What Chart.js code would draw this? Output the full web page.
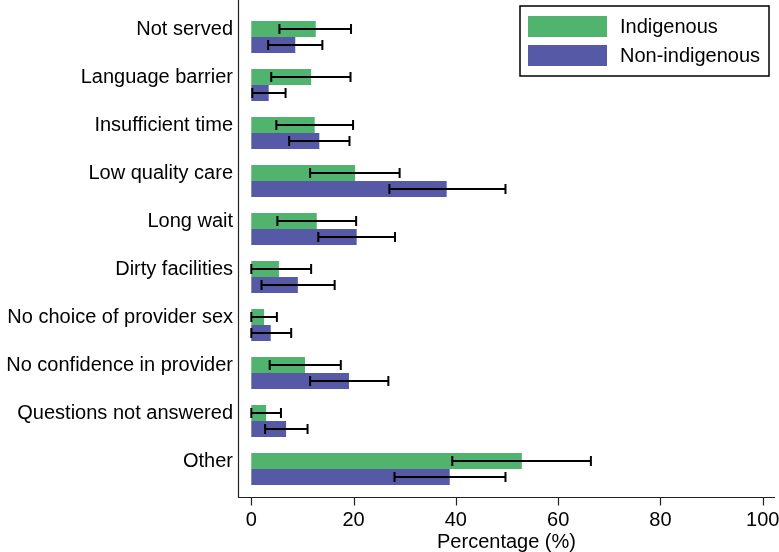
<!DOCTYPE html>
<html>
<head>
<meta charset="utf-8">
<script src="https://cdn.jsdelivr.net/npm/chart.js@4/dist/chart.umd.min.js"></script>
<style>
	html, body {
		margin: 0;
		padding: 0;
		background: #fff;
	}
	#wrap {
		width: 779px;
		height: 552px;
	}
</style>
</head>
<body>
<div id="wrap"><canvas id="chart" width="779" height="552"></canvas></div>
<script>
/* ==========================================================================
 Data
 ========================================================================== */

const categories = [
	'Not served',
	'Language barrier',
	'Insufficient time',
	'Low quality care',
	'Long wait',
	'Dirty facilities',
	'No choice of provider sex',
	'No confidence in provider',
	'Questions not answered',
	'Other',
];

const indigenous = [12.6, 11.7, 12.4, 20.3, 12.8, 5.4, 2.5, 10.5, 2.9, 52.9];
const indigenousLow = [5.5, 3.9, 4.9, 11.5, 5.1, 0, 0, 3.6, 0, 39.3];
const indigenousHigh = [19.5, 19.4, 19.9, 29.0, 20.5, 11.7, 5.0, 17.5, 5.8, 66.4];

const nonIndigenous = [8.6, 3.4, 13.3, 38.2, 20.6, 9.1, 3.8, 19.1, 6.8, 38.8];
const nonIndigenousLow = [3.3, 0.2, 7.4, 27.0, 13.1, 2.0, 0, 11.5, 2.7, 28.0];
const nonIndigenousHigh = [13.9, 6.7, 19.2, 49.7, 28.1, 16.3, 7.8, 26.8, 11.0, 49.7];

const xTicks = [0, 20, 40, 60, 80, 100];

const FONT = "'Liberation Sans', Arial, sans-serif";

/* ==========================================================================
 Plugins
 ========================================================================== */

// Confidence interval whiskers drawn on top of each bar
const errorBarPlugin = {
	id: 'errorBars',
	afterDatasetsDraw(chart) {
		const ctx = chart.ctx;
		const x = chart.scales.x;
		ctx.save();
		ctx.strokeStyle = '#000';
		ctx.lineWidth = 2;
		chart.data.datasets.forEach((ds, di) => {
			const meta = chart.getDatasetMeta(di);
			meta.data.forEach((bar, i) => {
				const x0 = x.getPixelForValue(ds.low[i]);
				const x1 = x.getPixelForValue(ds.high[i]);
				const y = bar.y;
				ctx.beginPath();
				ctx.moveTo(x0, y);
				ctx.lineTo(x1, y);
				ctx.moveTo(x0, y - 5);
				ctx.lineTo(x0, y + 5);
				ctx.moveTo(x1, y - 5);
				ctx.lineTo(x1, y + 5);
				ctx.stroke();
			});
		});
		ctx.restore();
	}
};

// Stata-like frame: left spine up to the top, bottom spine a little below the bars
const axisFramePlugin = {
	id: 'axisFrame',
	afterDraw(chart) {
		const ctx = chart.ctx;
		const area = chart.chartArea;
		const x = chart.scales.x;
		const base = area.bottom + 4.5;
		ctx.save();
		ctx.strokeStyle = '#222';
		ctx.lineWidth = 1.2;
		ctx.beginPath();
		ctx.moveTo(area.left + 0.5, 0);
		ctx.lineTo(area.left + 0.5, base);
		ctx.lineTo(area.right, base);
		xTicks.forEach(v => {
			const px = Math.round(x.getPixelForValue(v)) + 0.5;
			ctx.moveTo(px, base);
			ctx.lineTo(px, base + 8);
		});
		ctx.stroke();
		ctx.restore();
	}
};

// Boxed legend in the top right corner
const boxLegendPlugin = {
	id: 'boxLegend',
	afterDraw(chart) {
		const ctx = chart.ctx;
		const left = 520;
		const top = 6;
		ctx.save();
		ctx.strokeStyle = '#000';
		ctx.lineWidth = 1.5;
		ctx.strokeRect(left, top, 249, 70);
		ctx.font = '20px ' + FONT;
		ctx.textBaseline = 'middle';
		ctx.fillStyle = '#000';
		chart.data.datasets.forEach((ds, i) => {
			const y = top + 10 + i * 29;
			ctx.fillStyle = ds.backgroundColor;
			ctx.fillRect(left + 8, y, 79, 21);
			ctx.fillStyle = '#000';
			ctx.fillText(ds.label, left + 100, y + 11);
		});
		ctx.restore();
	}
};

/* ==========================================================================
 Config
 ========================================================================== */

const config = {
	type: 'bar',
	data: {
		labels: categories,
		datasets: [
			{
				label: 'Indigenous',
				backgroundColor: '#50B36E',
				data: indigenous,
				low: indigenousLow,
				high: indigenousHigh,
			},
			{
				label: 'Non-indigenous',
				backgroundColor: '#5559A6',
				data: nonIndigenous,
				low: nonIndigenousLow,
				high: nonIndigenousHigh,
			}
		],
	},
	options: {
		indexAxis: 'y',
		responsive: false,
		animation: false,
		maintainAspectRatio: false,
		categoryPercentage: 2 / 3,
		barPercentage: 1,
		layout: {
			padding: {
				top: 13,
				right: 4,
				left: 0,
				bottom: 0,
			},
		},
		scales: {
			x: {
				min: -2.6,
				max: 102.4,
				afterBuildTicks(scale) {
					scale.ticks = xTicks.map(v => ({value: v}));
				},
				afterFit(scale) {
					scale.height = 59;
					// no extra room for the half-width of the "100" label
					scale.paddingLeft = 0;
					scale.paddingRight = 0;
				},
				grid: {
					display: false,
					drawTicks: false,
				},
				border: {
					display: false,
				},
				ticks: {
					color: '#000',
					padding: 15,
					maxRotation: 0,
					font: {
						size: 20,
						family: FONT,
					},
				},
				title: {
					display: true,
					text: 'Percentage (%)',
					color: '#000',
					padding: {top: 0, bottom: 0},
					font: {
						size: 20,
						lineHeight: 1,
						family: FONT,
					},
				},
			},
			y: {
				afterFit(scale) {
					scale.width = 238;
					scale.paddingTop = 0;
					scale.paddingBottom = 0;
				},
				grid: {
					display: false,
					drawTicks: false,
				},
				border: {
					display: false,
				},
				ticks: {
					color: '#000',
					padding: 5,
					autoSkip: false,
					// labels sit level with the upper (Indigenous) bar
					labelOffset: -8,
					font: {
						size: 20,
						family: FONT,
					},
				},
			},
		},
		plugins: {
			legend: {
				display: false,
			},
			tooltip: {
				enabled: false,
			},
		},
	},
	plugins: [errorBarPlugin, axisFramePlugin, boxLegendPlugin],
};

/* ==========================================================================
 Render
 ========================================================================== */

const myChart = new Chart(document.getElementById('chart'), config);
</script>
</body>
</html>
